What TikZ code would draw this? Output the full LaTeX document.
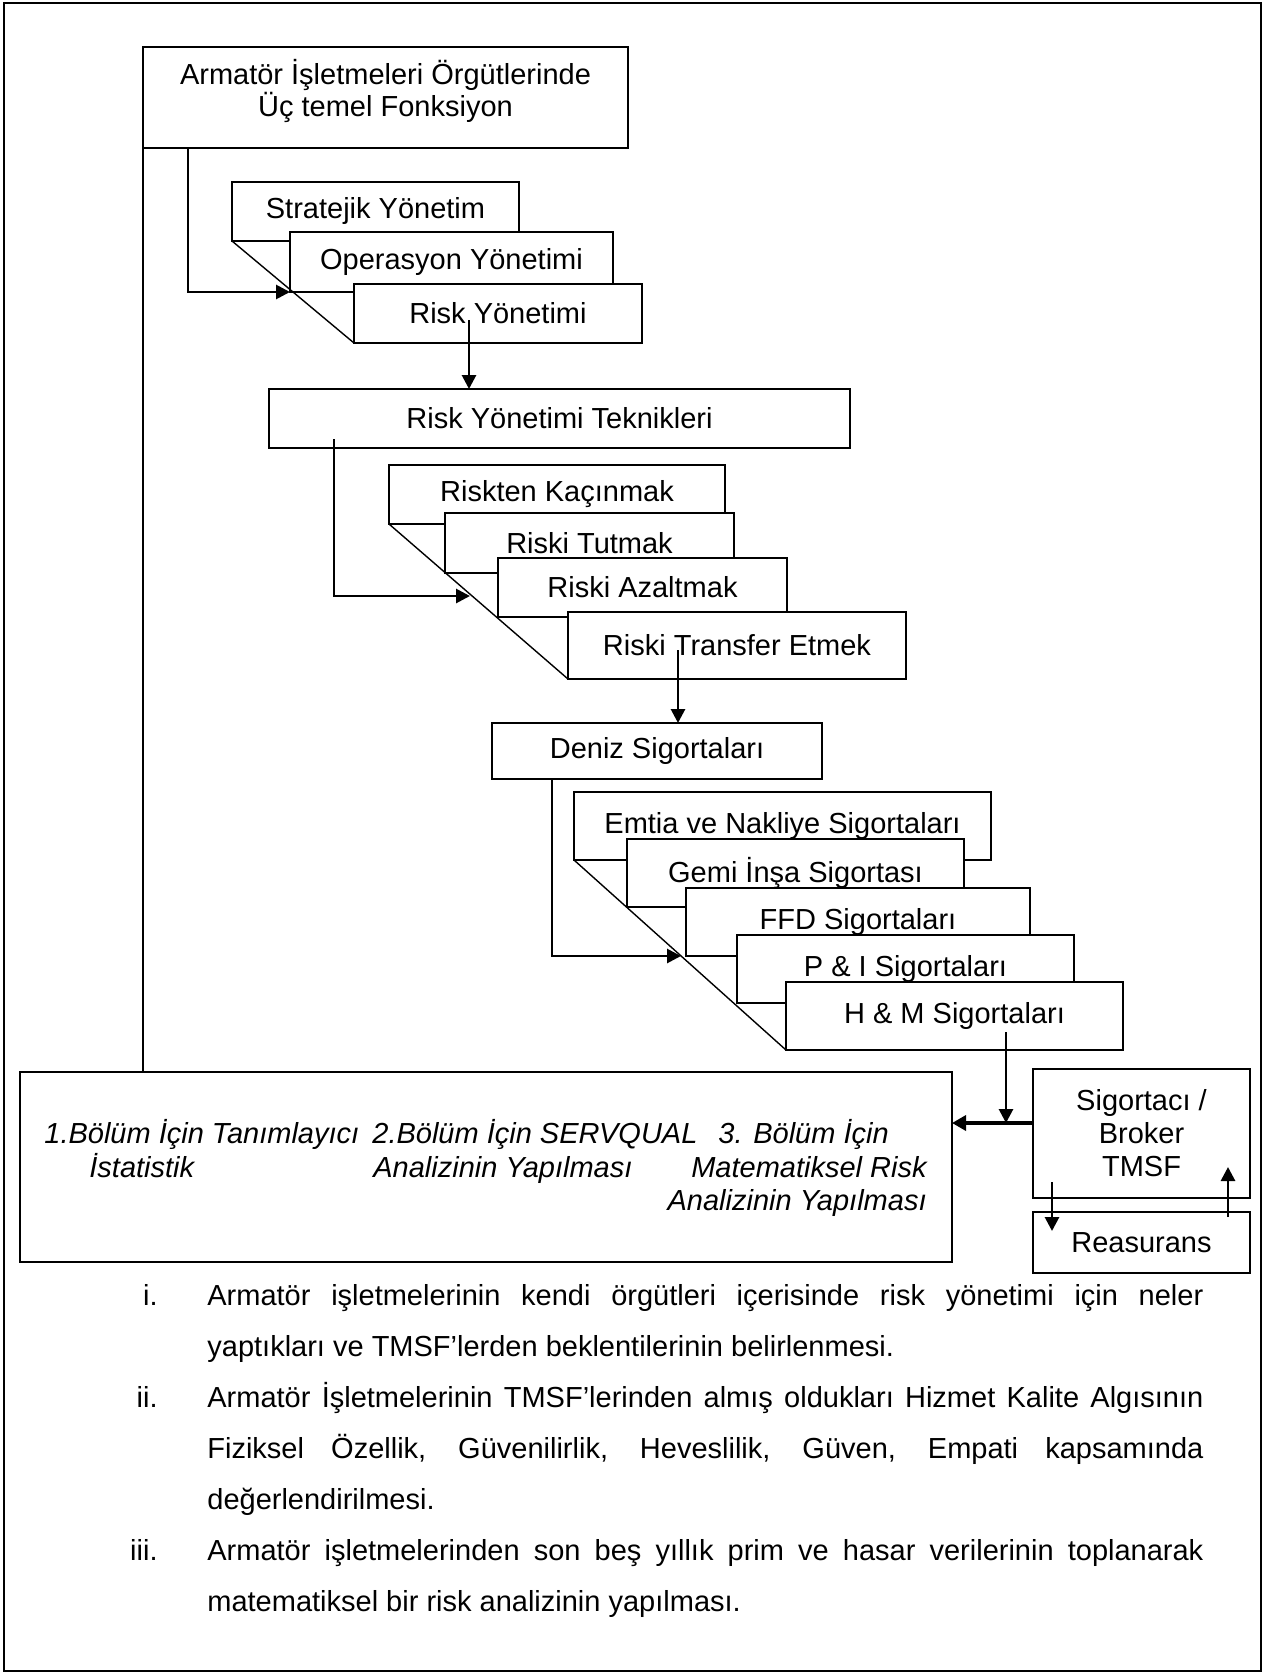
\documentclass[tikz,border=0pt]{standalone}
\usepackage{fontspec}
\setmainfont{Liberation Sans}
\usetikzlibrary{arrows.meta,calc}
\begin{document}
\begin{tikzpicture}[x=0.5pt,y=-0.5pt,
  box/.style={draw,fill=white,line width=1.1pt,inner sep=0pt,outer sep=0pt,
    anchor=north west,font=\fontsize{14.5}{16.5}\selectfont,align=center},
  conn/.style={line width=1.4pt},
  arr/.style={conn,-{Triangle[length=7pt,width=7pt]}},
  side/.style={line width=0.7pt},
  celltext/.style={inner sep=0pt,font=\fontsize{14.5}{17}\selectfont\itshape},
  listtext/.style={inner sep=0pt,anchor=base west,font=\fontsize{14.5}{25.5}\selectfont},
  listnum/.style={listtext,anchor=base east},
]
\useasboundingbox (0,0) rectangle (1270,1675);
\draw[line width=1pt] (4,3) rectangle (1261,1671);

% heading box
\node[box,minimum width=242.5pt,minimum height=50.5pt] (top) at (143,47) {};
\node[inner sep=0pt,font=\fontsize{14.5}{16}\selectfont,align=center,yshift=3.25pt]
  (toptext) at (top.center) {Armatör İşletmeleri Örgütlerinde\\Üç temel Fonksiyon};

% three basic functions
\node[box,minimum width=143.5pt,minimum height=29.5pt] (strat) at (232,182) {Stratejik Yönetim};
\node[box,minimum width=161.5pt,minimum height=30pt] (ops) at (290,232) {Operasyon Yönetimi};
\node[box,minimum width=144pt,minimum height=29.5pt] (risk) at (354,284) {Risk Yönetimi};
\draw[side] (strat.south west) -- (risk.south west);

% risk management techniques
\node[box,minimum width=290.5pt,minimum height=29.5pt] (tek) at (269,389) {Risk Yönetimi Teknikleri};
\node[box,minimum width=168pt,minimum height=29.5pt] (kac) at (389,465) {Riskten Kaçınmak};
\node[box,minimum width=144.5pt,minimum height=30pt] (tut) at (445,513) {Riski Tutmak};
\node[box,minimum width=144.5pt,minimum height=29.5pt] (aza) at (498,558) {Riski Azaltmak};
\node[box,minimum width=169pt,minimum height=33.5pt] (tra) at (568,612) {Riski Transfer Etmek};
\draw[side] (kac.south west) -- (tra.south west);

% marine insurance
\node[box,minimum width=165pt,minimum height=28pt] (den) at (492,723) {Deniz Sigortaları};
\node[box,minimum width=208.5pt,minimum height=34pt] (emt) at (574,792) {Emtia ve Nakliye Sigortaları};
\node[box,minimum width=168.5pt,minimum height=34pt] (gem) at (627,839) {Gemi İnşa Sigortası};
\node[box,minimum width=172pt,minimum height=34pt] (ffd) at (686,888) {FFD Sigortaları};
\node[box,minimum width=168.5pt,minimum height=34pt] (pi) at (737,935) {P \& I Sigortaları};
\node[box,minimum width=168.5pt,minimum height=34pt] (hm) at (786,982) {H \& M Sigortaları};
\draw[side] (emt.south west) -- (hm.south west);

% analysis box and insurer boxes
\node[box,minimum width=466pt,minimum height=95pt] (big) at (20,1072) {};
\node[box,minimum width=108.5pt,minimum height=64.5pt] (sig) at (1033,1069) {Sigortacı /\\Broker\\TMSF};
\node[box,minimum width=108.5pt,minimum height=30.5pt] (rea) at (1033,1212) {Reasurans};

\node[celltext,anchor=base west] (c1a) at (44,1143) {1.Bölüm İçin Tanımlayıcı};
\node[celltext,anchor=base west] (c1b) at (89,1177) {İstatistik};
\node[celltext,anchor=base west] (c2a) at (372,1143) {2.Bölüm İçin SERVQUAL};
\node[celltext,anchor=base west] (c2b) at (373,1177) {Analizinin Yapılması};
\node[celltext,anchor=base west] (c3a) at (718,1143) {3. Bölüm İçin};
\node[celltext,anchor=base east] (c3b) at (927,1177) {Matematiksel Risk};
\node[celltext,anchor=base east] (c3c) at (927,1210) {Analizinin Yapılması};

% connectors
\draw[conn] (top.south west) -- (top.south west |- big.north);
\draw[arr] ([xshift=22.5pt]top.south west) |- (ops.south west);

\coordinate (rs) at (469,320);
\draw[arr] (rs) -- (rs |- tek.north);

\coordinate (ts) at (334,439);
\coordinate (tt) at (470,596);
\draw[arr] (ts) |- (tt);

\coordinate (fs) at (678,650);
\draw[arr] (fs) -- (fs |- den.north);

\coordinate (dt) at (681,956);
\draw[arr] ([xshift=30pt]den.south west) |- (dt);

\coordinate (hs) at (1006,1032);
\coordinate (hj) at (1006,1123);
\draw[arr] (hs) -- (hj);
\draw[conn,line width=1.7pt,-{Triangle[length=7pt,width=7.5pt]}] (sig.west |- hj) -- (big.east |- hj);

\coordinate (d1) at (1052,1182);
\coordinate (d2) at (1052,1231);
\draw[arr] (d1) -- (d2);
\coordinate (u1) at (1228,1217);
\coordinate (u2) at (1228,1167);
\draw[arr] (u1) -- (u2);

% objectives list
\node[listnum] (n1) at (158,1305) {i.};
\node[listtext] (l1a) at (207,1305) {\makebox[498pt][s]{Armatör işletmelerinin kendi örgütleri içerisinde risk yönetimi için neler}};
\node[listtext] (l1b) at (207,1356) {yaptıkları ve TMSF’lerden beklentilerinin belirlenmesi.};
\node[listnum] (n2) at (158,1407) {ii.};
\node[listtext] (l2a) at (207,1407) {\makebox[498pt][s]{Armatör İşletmelerinin TMSF’lerinden almış oldukları Hizmet Kalite Algısının}};
\node[listtext] (l2b) at (207,1458) {\makebox[498pt][s]{Fiziksel Özellik, Güvenilirlik, Heveslilik, Güven, Empati kapsamında}};
\node[listtext] (l2c) at (207,1509) {değerlendirilmesi.};
\node[listnum] (n3) at (158,1560) {iii.};
\node[listtext] (l3a) at (207,1560) {\makebox[498pt][s]{Armatör işletmelerinden son beş yıllık prim ve hasar verilerinin toplanarak}};
\node[listtext] (l3b) at (207,1611) {matematiksel bir risk analizinin yapılması.};
\end{tikzpicture}
\end{document}
